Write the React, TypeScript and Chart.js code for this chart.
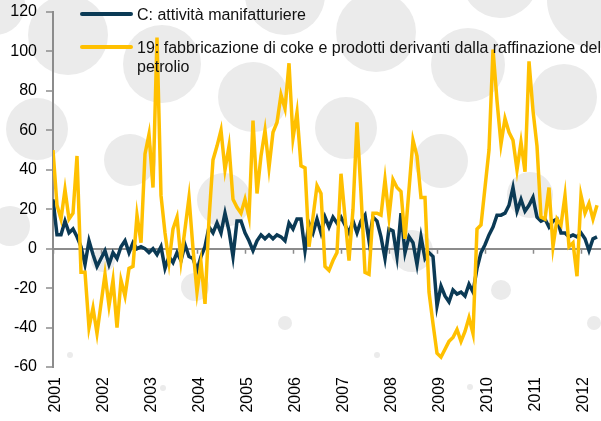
import React, { useEffect, useRef } from 'react';
import { Chart, registerables } from 'chart.js';

Chart.register(...registerables);

// ---- data ----
const yearLabels = ['2001', '2002', '2003', '2004', '2005', '2006', '2007', '2008', '2009', '2010', '2011', '2012'];
const yTicks = [-60, -40, -20, 0, 20, 40, 60, 80, 100, 120];
const seriesNames = ['C: attività manifatturiere', '19: fabbricazione di coke e prodotti derivanti dalla raffinazione del petrolio'];
const legendLines2 = ['19: fabbricazione di coke e prodotti derivanti dalla raffinazione del', 'petrolio'];

// monthly values, Jan 2001 onward
const manifatturiere = [
  25, 7, 7, 14, 8, 10, 6, 1, -8, 4,
  -3, -9, -5, -1, -8, -2, -5, 1, 4, -2,
  3, 0, 1, 0, -2, 0, -3, 1, -10, -4,
  -7, -2, -6, 2, -4, -5, -11, -4, 1, 11,
  8, 13, 8, 18, 9, -4, 14, 14, 8, 4,
  -1, 4, 7, 5, 7, 5, 7, 6, 4, 13,
  10, 15, 15, -1, 13, 8, 15, 8, 16, 11,
  16, 13, 16, 12, 8, 14, 8, 14, 17, 4,
  16, 14, 6, -5, 10, 9, -4, 18, -2, 6,
  3, -8, 6, -5, -2, -4, -29, -19, -24, -27,
  -21, -23, -22, -24, -18, -22, -10, -2, 2, 7,
  11, 17, 17, 18, 22, 31, 19, 25, 19, 22,
  26, 16, 14, 15, 11, 14, 15, 8, 8, 6,
  7, 6, 8, 5, -1, 5, 6,
];

const coke = [
  50, 22, 15, 30, 15, 18, 47, -12, -12, -40,
  -30, -43, -28, -13, -29, -16, -40, -16, -24, -10,
  -9, 17, 3, 48, 58, 31, 107, 27, 8, -7,
  10, 16, -6, 10, 26, 0, -22, -7, -28, 15,
  45, 52, 60, 40, 52, 25, 21, 18, 25, 16,
  65, 28, 47, 60, 41, 59, 64, 78, 71, 94,
  56, 69, 42, 41, 1, 16, 32, 28, -9, -11,
  -6, -2, 38, 16, -6, 20, 64, 28, -12, -13,
  18, 18, 17, 35, 16, 35, 31, 29, 5, 30,
  55, 47, 26, 26, -22, -38, -53, -55, -51, -47,
  -45, -41, -47, -42, -35, -43, 10, 12, 31, 50,
  101, 75, 53, 66, 59, 55, 40, 54, 39, 95,
  70, 52, 16, 15, 31, 1, 15, 12, 27, 1,
  3, -14, 27, 18, 23, 15, 22,
];

// decorative background circles [cx, cy, r]
const decoCircles = [
  [-5, 5, 30], [68, 35, 40], [162, 64, 39], [37, 129, 31], [130, 160, 26],
  [10, 226, 20], [103, 260, 12], [70, 355, 3], [163, 388, 3], [195, 287, 14],
  [224, 200, 27], [253, 97, 35], [285, -5, 40], [376, 32, 40], [346, 128, 31],
  [285, 323, 7], [412, 251, 21], [377, 355, 3], [468, 65, 37], [500, -20, 38],
  [595, 0, 48], [564, 97, 33], [441, 161, 27], [530, 195, 23], [501, 290, 10],
  [594, 323, 7], [470, 387, 3],
];

const NAVY = '#0B3A55';
const YELLOW = '#FFC000';
const AXIS = '#8c8c8c';
const FONT = '"Liberation Sans", Arial, Helvetica, sans-serif';

export default function App() {
  const ref = useRef<HTMLCanvasElement>(null);

  useEffect(() => {
    const zeroTicks = {
      id: 'zeroTicks',
      beforeDatasetsDraw(chart: any) {
        const xs = chart.scales.x;
        const ys = chart.scales.y;
        const y0 = ys.getPixelForValue(0);
        const c = chart.ctx;
        c.save();
        c.strokeStyle = AXIS;
        c.lineWidth = 1.5;
        c.beginPath();
        xs.ticks.forEach((t: any) => {
          const px = Math.round(xs.getPixelForValue(t.value)) + 0.5;
          c.moveTo(px, y0);
          c.lineTo(px, y0 + 5);
        });
        c.stroke();
        c.restore();
      },
    };

    const chart = new Chart(ref.current as HTMLCanvasElement, {
      type: 'line',
      data: {
        datasets: [
          {
            label: seriesNames[0],
            data: manifatturiere.map((v, i) => ({ x: i, y: v })),
            borderColor: NAVY,
            backgroundColor: NAVY,
            borderWidth: 3.5,
            pointRadius: 0,
            tension: 0,
            order: 1,
          },
          {
            label: seriesNames[1],
            data: coke.map((v, i) => ({ x: i, y: v })),
            borderColor: YELLOW,
            backgroundColor: YELLOW,
            borderWidth: 3.5,
            pointRadius: 0,
            tension: 0,
            order: 0,
          },
        ],
      },
      options: {
        responsive: false,
        animation: false,
        layout: { padding: { top: 12, left: 0, right: 0, bottom: 0 } },
        plugins: { legend: { display: false }, tooltip: { enabled: false } },
        scales: {
          x: {
            type: 'linear',
            min: 0,
            max: manifatturiere.length,
            afterFit: (s: any) => { s.height = 54; s.paddingLeft = 0; s.paddingRight = 0; },
            afterBuildTicks: (s: any) => { s.ticks = yearLabels.map((_, k) => ({ value: k * 12 })); },
            ticks: {
              callback: (v: any) => yearLabels[Math.round(Number(v) / 12)] ?? '',
              maxRotation: 90,
              minRotation: 90,
              autoSkip: false,
              padding: 10,
              labelOffset: 3,
              color: '#000',
              font: { family: FONT, size: 16 },
            },
            grid: { display: false, drawTicks: false },
            border: { display: false },
          },
          y: {
            min: -60,
            max: 120,
            afterFit: (s: any) => { s.width = 53; s.paddingTop = 0; s.paddingBottom = 0; },
            afterBuildTicks: (s: any) => { s.ticks = yTicks.map((v) => ({ value: v })); },
            ticks: {
              callback: (v: any) => String(v),
              padding: 9,
              color: '#000',
              font: { family: FONT, size: 16 },
            },
            grid: {
              color: (c: any) => (c.tick && c.tick.value === 0 ? AXIS : 'rgba(0,0,0,0)'),
              lineWidth: 2,
              tickColor: AXIS,
              tickLength: 7,
              tickWidth: 1.5,
            },
            border: { display: true, color: AXIS, width: 2 },
          },
        },
      },
      plugins: [zeroTicks],
    } as any);

    return () => chart.destroy();
  }, []);

  const textStyle: React.CSSProperties = {
    position: 'absolute',
    left: 137,
    fontFamily: FONT,
    fontSize: 16,
    lineHeight: '19px',
    color: '#111',
    whiteSpace: 'nowrap',
  };
  const swatch = (color: string, top: number): React.CSSProperties => ({
    position: 'absolute',
    left: 80,
    top,
    width: 53,
    height: 4,
    borderRadius: 2,
    background: color,
  });

  return (
    <div style={{ position: 'absolute', left: 0, top: 0, width: 601, height: 421, overflow: 'hidden', background: '#fff' }}>
      {decoCircles.map(([cx, cy, r], k) => (
        <div
          key={k}
          style={{
            position: 'absolute',
            left: cx - r,
            top: cy - r,
            width: 2 * r,
            height: 2 * r,
            borderRadius: '50%',
            background: '#ebebeb',
          }}
        />
      ))}
      <canvas ref={ref} width={601} height={421} style={{ position: 'absolute', left: 0, top: 0, display: 'block' }} />
      <div style={swatch(NAVY, 12)} />
      <div style={{ ...textStyle, top: 4.5 }}>{seriesNames[0]}</div>
      <div style={swatch(YELLOW, 45)} />
      <div style={{ ...textStyle, top: 37.5 }}>
        {legendLines2[0]}
        <br />
        {legendLines2[1]}
      </div>
    </div>
  );
}
